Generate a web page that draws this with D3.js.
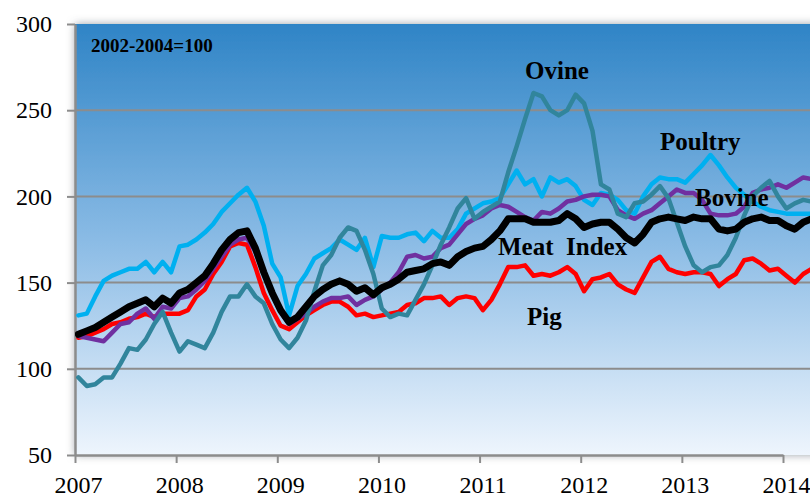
<!DOCTYPE html>
<html>
<head>
<meta charset="utf-8">
<script src="https://cdn.jsdelivr.net/npm/d3@7"></script>
<style>
  body { margin: 0; background: #fff; }
  svg text { font-family: "Liberation Serif", "Times New Roman", serif; }
</style>
</head>
<body>
<div id="chart-container"></div>
<script>
// monthly index values, Jan 2007 .. Apr 2014 (2002-2004 = 100)
var startYear = 2007;
var yearTicks = [2007, 2008, 2009, 2010, 2011, 2012, 2013, 2014];
var valueTicks = [50, 100, 150, 200, 250, 300];

var poultry = [131, 132, 142, 151, 154, 156, 158, 158, 162, 156,
  162, 156, 171, 172, 175, 179, 184, 191, 196, 201,
  205, 197, 183, 161, 153, 131, 148, 155, 164, 167,
  170, 175, 172, 169, 176, 159, 177, 176, 176, 178,
  179, 174, 180, 176, 176, 181, 190, 193, 196, 197,
  199, 207, 215, 207, 210, 200, 211, 208, 210, 206,
  198, 195, 202, 201, 198, 192, 190, 200, 207, 211,
  210, 210, 208, 213, 218, 224, 218, 211, 205, 201,
  197, 194, 192, 191, 190, 190, 190, 190];

var ovine = [95, 90, 91, 95, 95, 103, 112, 111, 117, 126,
  133, 121, 110, 116, 114, 112, 121, 133, 142, 142,
  149, 142, 138, 126, 117, 112, 118, 128, 145, 160,
  166, 176, 182, 180, 169, 155, 135, 130, 132, 131,
  140, 149, 160, 172, 182, 193, 199, 187, 191, 194,
  197, 214, 229, 245, 260, 258, 250, 247, 250, 259,
  254, 238, 207, 204, 190, 188, 196, 197, 201, 206,
  199, 185, 171, 160, 156, 159, 160, 166, 176, 189,
  200, 205, 209, 200, 193, 196, 198, 197];

var bovine = [119, 118, 117, 116, 121, 126, 127, 132, 135, 129,
  136, 135, 141, 142, 146, 151, 158, 165, 172, 175,
  176, 168, 155, 143, 133, 126, 129, 132, 136, 139,
  141, 141, 142, 137, 140, 142, 146, 150, 156, 165,
  166, 164, 165, 170, 172, 178, 184, 187, 189, 193,
  195, 194, 191, 188, 186, 191, 190, 193, 197, 198,
  200, 201, 201, 200, 192, 189, 187, 190, 192, 196,
  200, 204, 202, 202, 198, 190, 189, 189, 190, 194,
  202, 204, 205, 207, 205, 208, 211, 210];

var pig = [118, 119, 121, 123, 126, 127, 129, 130, 132, 130,
  132, 132, 132, 134, 142, 146, 155, 162, 171, 173,
  172, 159, 144, 134, 125, 123, 127, 131, 134, 137,
  139, 139, 136, 131, 132, 130, 131, 132, 133, 137,
  138, 141, 141, 142, 137, 141, 142, 141, 134, 140,
  149, 159, 159, 160, 154, 155, 154, 156, 159, 155,
  145, 152, 153, 155, 149, 146, 144, 153, 162, 165,
  158, 156, 155, 156, 156, 155, 148, 152, 155, 163,
  164, 161, 157, 158, 154, 150, 155, 158];

var meatIndex = [120, 122, 124, 127, 130, 133, 136, 138, 140, 136,
  141, 138, 144, 146, 150, 154, 161, 169, 175, 179,
  180, 170, 156, 144, 134, 127, 130, 136, 142, 146,
  149, 151, 149, 145, 147, 143, 147, 149, 152, 156,
  157, 158, 161, 162, 160, 165, 168, 170, 171, 175,
  180, 187, 187, 187, 185, 185, 185, 186, 190, 187,
  182, 184, 185, 185, 181, 176, 173, 178, 185, 187,
  188, 187, 186, 188, 187, 187, 181, 180, 181, 185,
  187, 188, 186, 186, 183, 181, 185, 187];

(function() {

  var series = [
    { name: "Poultry", values: poultry, color: "#00b0f0", width: 4.5 },
    { name: "Pig", values: pig, color: "#ff0000", width: 4.5 },
    { name: "Bovine", values: bovine, color: "#7030a0", width: 4.5 },
    { name: "Ovine", values: ovine, color: "#31859c", width: 4.5 },
    { name: "Meat Index", values: meatIndex, color: "#000000", width: 7 }
  ];

  var W = 810, H = 494;
  var plotLeft = 75, plotTop = 24, plotBottom = 455;

  var x = d3.scaleLinear().domain([2007, 2014]).range([plotLeft, 783]);
  var y = d3.scaleLinear().domain([50, 300]).range([plotBottom, plotTop]);

  var svg = d3.select("#chart-container").append("svg")
      .attr("width", W)
      .attr("height", H);

  var defs = svg.append("defs");
  var grad = defs.append("linearGradient")
      .attr("id", "bg").attr("x1", 0).attr("y1", 0).attr("x2", 0).attr("y2", 1);
  grad.append("stop").attr("offset", "0%").attr("stop-color", "#2f84c6");
  grad.append("stop").attr("offset", "50%").attr("stop-color", "#8abbe5");
  grad.append("stop").attr("offset", "100%").attr("stop-color", "#eef5fd");

  var shadow = defs.append("filter").attr("id", "shadow")
      .attr("x", "-5%").attr("y", "-5%").attr("width", "110%").attr("height", "110%");
  shadow.append("feDropShadow")
      .attr("dx", 0).attr("dy", 0).attr("stdDeviation", 4)
      .attr("flood-color", "#5a6470").attr("flood-opacity", 0.6);

  defs.append("clipPath").attr("id", "plotclip")
    .append("rect").attr("x", plotLeft).attr("y", plotTop - 5)
      .attr("width", W - plotLeft).attr("height", plotBottom - plotTop + 5);

  // plot background
  svg.append("rect")
      .attr("x", plotLeft).attr("y", plotTop)
      .attr("width", W - plotLeft + 40).attr("height", plotBottom - plotTop)
      .attr("fill", "url(#bg)")
      .attr("filter", "url(#shadow)");

  // grid lines
  svg.append("g").selectAll("line")
      .data(valueTicks.filter(function(v) { return v > 50 && v < 300; }))
      .enter().append("line")
      .attr("x1", plotLeft).attr("x2", W)
      .attr("y1", function(d) { return y(d); })
      .attr("y2", function(d) { return y(d); })
      .attr("stroke", "#8c8c8c")
      .attr("stroke-width", 2);

  // axes
  var yAxis = d3.axisLeft(y).tickValues(valueTicks).tickSize(8).tickSizeOuter(0).tickPadding(15);
  var gy = svg.append("g").attr("transform", "translate(" + plotLeft + ",0)").call(yAxis);

  var xAxis = d3.axisBottom(x).tickValues(yearTicks).tickFormat(d3.format("d"))
      .tickSize(8).tickSizeOuter(0);
  var gx = svg.append("g").attr("transform", "translate(0," + plotBottom + ")").call(xAxis);

  gy.select(".domain").attr("stroke", "#8c8c8c").attr("stroke-width", 2.5);
  gx.select(".domain").attr("stroke", "#8c8c8c").attr("stroke-width", 2.5);
  svg.selectAll(".tick line").attr("stroke", "#8c8c8c").attr("stroke-width", 2);
  svg.selectAll(".tick text")
      .attr("font-size", 24)
      .attr("fill", "#000");
  gx.selectAll(".tick text").attr("y", 38).attr("dy", 0).attr("dx", 3);

  // lines
  var line = d3.line()
      .x(function(d, i) { return x(startYear + (i + 0.4) / 12); })
      .y(function(d) { return y(d); });

  svg.append("g").attr("clip-path", "url(#plotclip)")
    .selectAll("path")
      .data(series)
      .enter().append("path")
      .attr("d", function(s) { return line(s.values); })
      .attr("fill", "none")
      .attr("stroke", function(s) { return s.color; })
      .attr("stroke-width", function(s) { return s.width; })
      .attr("stroke-linejoin", "round")
      .attr("stroke-linecap", "round");

  // annotations
  var labels = [
    { text: "2002-2004=100", x: 91, y: 52, size: 19 },
    { text: "Ovine", x: 525, y: 79, size: 25 },
    { text: "Poultry", x: 660, y: 150, size: 25 },
    { text: "Bovine", x: 695, y: 206, size: 25 },
    { text: "Meat\u00a0\u00a0Index", x: 498, y: 255, size: 25 },
    { text: "Pig", x: 527, y: 325, size: 25 }
  ];

  svg.append("g").selectAll("text")
      .data(labels)
      .enter().append("text")
      .attr("x", function(d) { return d.x; })
      .attr("y", function(d) { return d.y; })
      .attr("font-size", function(d) { return d.size; })
      .attr("font-weight", "bold")
      .attr("fill", "#000")
      .text(function(d) { return d.text; });

})();
</script>
</body>
</html>
